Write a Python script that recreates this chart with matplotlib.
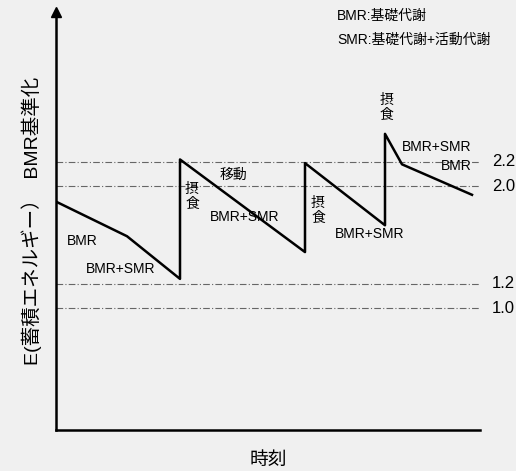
import matplotlib.pyplot as plt

plt.rcParams['font.family'] = ['Liberation Sans', 'Noto Sans CJK JP', 'DejaVu Sans']

# 時刻 (相対) と E (BMR基準化)
tiempo = [1, 71, 124, 124, 249, 249, 329, 329, 346, 416]
energia = [1.87, 1.59, 1.24, 2.22, 1.46, 2.19, 1.68, 2.43, 2.18, 1.93]

niveles = [2.2, 2.0, 1.2, 1.0]
etiquetas_nivel = ['2.2', '2.0', '1.2', '1.0']

fig = plt.figure(figsize=(5.16, 4.71), dpi=100)
fig.patch.set_facecolor('#f0f0f0')
ax = fig.add_axes([56/516, 41/471, 424/516, 418/471])
ax.set_facecolor('#f0f0f0')
ax.set_xlim(0, 424)
ax.set_ylim(0, 3.43)

for n, et in zip(niveles, etiquetas_nivel):
    ax.axhline(n, color='#666666', lw=0.8, ls=(0, (6, 2, 1, 2)))
    ax.text(436, n, et, fontsize=12, va='center', ha='left', clip_on=False)

ax.plot(tiempo, energia, color='black', lw=1.8)

ax.spines['top'].set_visible(False)
ax.spines['right'].set_visible(False)
ax.spines['left'].set_linewidth(1.8)
ax.spines['bottom'].set_linewidth(1.8)
ax.set_xticks([])
ax.set_yticks([])
ax.plot(0, 1, '^k', markersize=7, transform=ax.transAxes, clip_on=False)

ax.set_xlabel('時刻', fontsize=13.5, labelpad=16)
ax.set_ylabel('E(蓄積エネルギー）  BMR基準化', fontsize=14, labelpad=10)

fs = 10
ax.text(11, 1.55, 'BMR', fontsize=fs, va='center')
ax.text(30, 1.32, 'BMR+SMR', fontsize=fs, va='center')
ax.text(129, 1.92, '摂\n食', fontsize=fs, va='center', linespacing=1.1)
ax.text(164, 2.09, '移動', fontsize=fs, va='center')
ax.text(154, 1.75, 'BMR+SMR', fontsize=fs, va='center')
ax.text(255, 1.8, '摂\n食', fontsize=fs, va='center', linespacing=1.1)
ax.text(279, 1.61, 'BMR+SMR', fontsize=fs, va='center')
ax.text(324, 2.65, '摂\n食', fontsize=fs, va='center', linespacing=1.1)
ax.text(346, 2.32, 'BMR+SMR', fontsize=fs, va='center')
ax.text(416, 2.17, 'BMR', fontsize=fs, va='center', ha='right')

fig.text(337/516, 1 - 16/471, 'BMR:基礎代謝', fontsize=10, va='center')
fig.text(337/516, 1 - 40/471, 'SMR:基礎代謝+活動代謝', fontsize=10, va='center')

fig.savefig('out.png', dpi=100, facecolor=fig.get_facecolor())
